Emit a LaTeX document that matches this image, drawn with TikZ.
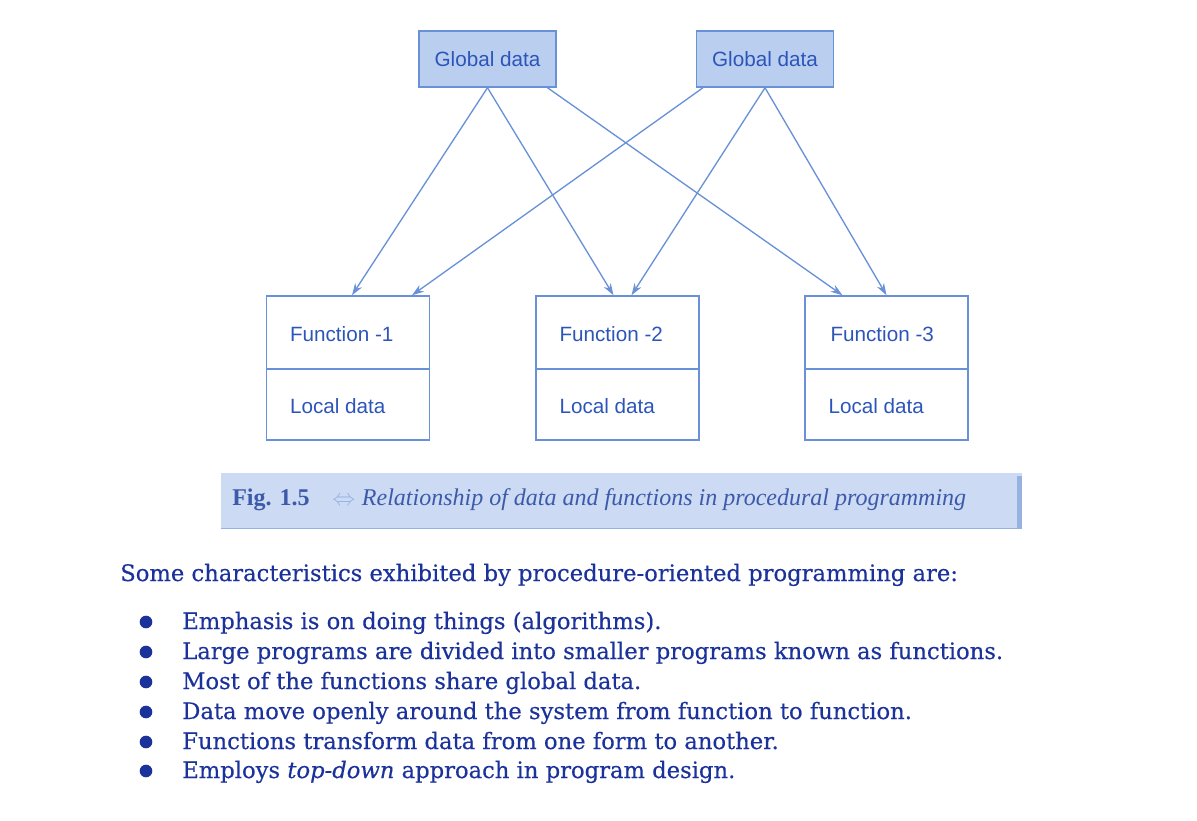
\documentclass[tikz,border=0pt]{standalone}
\usepackage{fontspec}
\usetikzlibrary{arrows.meta,calc}
\newfontfamily\boxfont{Liberation Sans}
\newfontfamily\bodyfont[FakeBold=0.4]{DejaVu Serif}
\newfontfamily\capfont{Liberation Serif}
\definecolor{lineblue}{RGB}{105,145,215}
\definecolor{boxtext}{RGB}{45,85,185}
\definecolor{globalfill}{RGB}{186,206,240}
\definecolor{capfill}{RGB}{204,218,243}
\definecolor{capedge}{RGB}{150,178,228}
\definecolor{captext}{RGB}{60,90,170}
\definecolor{bodytext}{RGB}{28,50,155}
\begin{document}
\begin{tikzpicture}[x=0.75pt,y=-0.75pt,
  globalbox/.style={draw=lineblue, fill=globalfill, line width=1.1pt,
    minimum width=102.75pt, minimum height=42pt, inner sep=0pt,
    text=boxtext, font=\boxfont\fontsize{15.5}{18}\selectfont},
  funcpart/.style={draw=lineblue, line width=1.1pt, minimum width=122.25pt,
    minimum height=54.75pt, inner sep=0pt},
  localpart/.style={draw=lineblue, line width=1.1pt, minimum width=122.25pt,
    minimum height=53.25pt, inner sep=0pt},
  boxlabel/.style={anchor=west, inner sep=0pt, text=boxtext,
    font=\boxfont\fontsize{15.5}{18}\selectfont},
  flow/.style={draw=lineblue, line width=1pt,
    -{Stealth[length=9pt,width=6pt]}},
  bodyline/.style={anchor=base west, inner sep=0pt, text=bodytext,
    font=\bodyfont\fontsize{17}{20}\selectfont},
  bullet/.style={circle, fill=bodytext, inner sep=0pt, minimum size=9.5pt}
]
\useasboundingbox (0,0) rectangle (1197,821);

% global data blocks
\node[globalbox] (g1) at (487.5,59) {Global data};
\node[globalbox] (g2) at (765,59) {Global data};

% function blocks: upper part holds the name, lower part the local data
\node[funcpart]  (f1) at (348,332.5) {};
\node[localpart] (l1) at (348,404.5) {};
\node[funcpart]  (f2) at (617.5,332.5) {};
\node[localpart] (l2) at (617.5,404.5) {};
\node[funcpart]  (f3) at (886.5,332.5) {};
\node[localpart] (l3) at (886.5,404.5) {};

\node[boxlabel] (tf1) at ($(f1.west)+(24,2)$) {Function -1};
\node[boxlabel] (tl1) at ($(l1.west)+(24,2)$) {Local data};
\node[boxlabel] (tf2) at ($(f2.west)+(24,2)$) {Function -2};
\node[boxlabel] (tl2) at ($(l2.west)+(24,2)$) {Local data};
\node[boxlabel] (tf3) at ($(f3.west)+(26,2)$) {Function -3};
\node[boxlabel] (tl3) at ($(l3.west)+(24,2)$) {Local data};

% global data reaches every function
\draw[flow] (g1.south) -- ($(f1.north)+(4,0)$);
\draw[flow] (g1.south) -- ($(f2.north)+(-4,0)$);
\draw[flow] ($(g1.south)+(60,0)$) -- ($(f3.north)+(-44,0)$);
\draw[flow] ($(g2.south)+(-62,0)$) -- ($(f1.north)+(64,0)$);
\draw[flow] (g2.south) -- ($(f2.north)+(14,0)$);
\draw[flow] (g2.south) -- (f3.north);

% caption band
\node[fill=capfill, minimum width=600.75pt, minimum height=41.25pt,
  inner sep=0pt] (cap) at (621.5,500.5) {};
\fill[capedge] ($(cap.north east)+(-5,3)$) rectangle (cap.south east);
\draw[capedge, line width=1pt] (cap.south west) -- (cap.south east);
\node[anchor=base west, inner sep=0pt, text=captext,
  font=\capfont\fontsize{18}{21}\selectfont] (captxt) at (232,505)
  {{\bfseries Fig. 1.5}\hspace{17pt}{\color{capedge}$\Leftrightarrow$}\hspace{5pt}%
   \textit{Relationship of data and functions in procedural programming}};

% characteristics list
\node[bodyline] (head) at (120,581)
  {Some characteristics exhibited by procedure-oriented programming are:};
\node[bullet] (b1) at (146,622) {};
\node[bullet] (b2) at (146,652) {};
\node[bullet] (b3) at (146,682) {};
\node[bullet] (b4) at (146,712) {};
\node[bullet] (b5) at (146,742) {};
\node[bullet] (b6) at (146,771) {};
\node[bodyline] (s1) at (182,629) {Emphasis is on doing things (algorithms).};
\node[bodyline] (s2) at (182,659) {Large programs are divided into smaller programs known as functions.};
\node[bodyline] (s3) at (182,689) {Most of the functions share global data.};
\node[bodyline] (s4) at (182,719) {Data move openly around the system from function to function.};
\node[bodyline] (s5) at (182,749) {Functions transform data from one form to another.};
\node[bodyline] (s6) at (182,778) {Employs \textit{top-down} approach in program design.};
\end{tikzpicture}
\end{document}
